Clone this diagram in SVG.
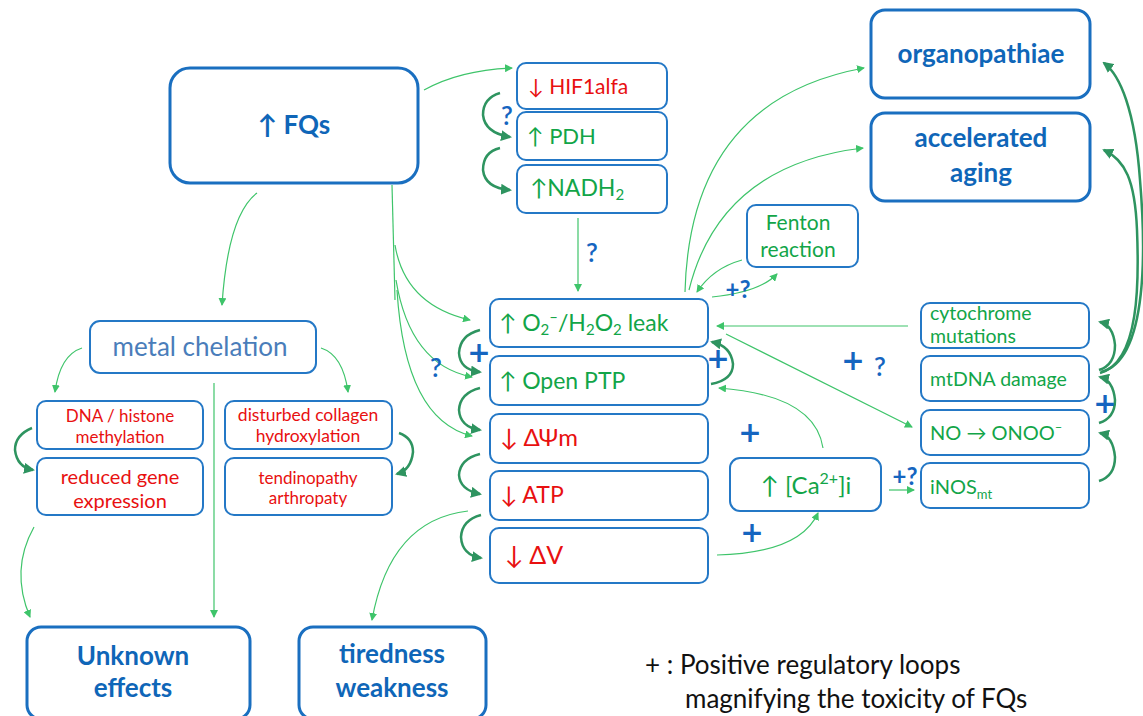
<svg xmlns="http://www.w3.org/2000/svg" width="1143" height="716" viewBox="0 0 1143 716">
<defs>
<style>
.box{fill:#fff;stroke:#2478c6;stroke-width:2}
.bbox{fill:#fff;stroke:#1a6fc0;stroke-width:3}
.t{font-family:Lato,"Open Sans","DejaVu Sans",sans-serif}
.big{font-weight:bold;fill:#0f66b8;font-size:26px;text-anchor:middle}
.red{fill:#e81010}
.grn{fill:#12a548}
.lc{fill:none;stroke:#3ec46a;stroke-width:1.2}
.dc{fill:none;stroke:#2e9460;stroke-width:2.5}
.plus{font-family:"DejaVu Sans",sans-serif;font-weight:bold;fill:#1565c0;font-size:28px;text-anchor:middle}
.q{font-family:Lato,"Open Sans",sans-serif;fill:#1565c0;font-size:26px;text-anchor:middle;font-weight:600}
.pq{font-family:Lato,"Open Sans",sans-serif;fill:#1565c0;font-size:24px;text-anchor:middle;font-weight:bold}
</style>
<marker id="la" markerWidth="8" markerHeight="8" refX="7" refY="4" orient="auto" markerUnits="userSpaceOnUse"><path d="M0,0 L8,4 L0,8 z" fill="#3ec46a"/></marker>
<marker id="da" markerWidth="11" markerHeight="11" refX="9" refY="5.5" orient="auto" markerUnits="userSpaceOnUse"><path d="M0,0 L11,5.5 L0,11 z" fill="#2e9460"/></marker>
</defs>

<g id="connectors">
<path class="lc" d="M424,90 Q460,70 512,68" marker-end="url(#la)"/>
<path class="dc" d="M500,93 Q483,98 483,115 Q485,133 510,137" marker-end="url(#da)"/>
<path class="dc" d="M500,148 Q483,152 483,170 Q485,188 510,190" marker-end="url(#da)"/>
<path class="lc" d="M578,218 L578,291" marker-end="url(#la)"/>
<path class="lc" d="M392,185 L395,300"/>
<path class="lc" d="M395,245 Q405,305 470,320" marker-end="url(#la)"/>
<path class="lc" d="M396,280 Q410,365 472,377" marker-end="url(#la)"/>
<path class="lc" d="M397,290 Q405,420 472,436" marker-end="url(#la)"/>
<path class="lc" d="M257,193 Q228,215 222,305" marker-end="url(#la)"/>
<path class="lc" d="M82,348 Q60,355 55,392" marker-end="url(#la)"/>
<path class="lc" d="M321,348 Q343,355 348,392" marker-end="url(#la)"/>
<path class="lc" d="M214,383 L214,617" marker-end="url(#la)"/>
<path class="dc" d="M32,428 Q15,435 15,450 Q17,467 33,470" marker-end="url(#da)"/>
<path class="dc" d="M399,433 Q413,438 413,452 Q411,470 397,474" marker-end="url(#da)"/>
<path class="lc" d="M34,527 Q10,570 30,617" marker-end="url(#la)"/>
<path class="dc" d="M480,330 Q460,335 459,353 Q460,370 480,372" marker-end="url(#da)"/>
<path class="dc" d="M480,388 Q460,393 459,410 Q460,427 480,430" marker-end="url(#da)"/>
<path class="dc" d="M480,454 Q460,459 459,475 Q460,490 480,494" marker-end="url(#da)"/>
<path class="dc" d="M481,515 Q462,520 461,537 Q462,555 481,558" marker-end="url(#da)"/>
<path class="lc" d="M468,511 Q390,520 372,620" marker-end="url(#la)"/>
<path class="dc" d="M711,384 Q733,380 733,364 Q731,346 712,342" marker-end="url(#da)"/>
<path class="lc" d="M823,448 Q815,395 719,388" marker-end="url(#la)"/>
<path class="lc" d="M717,555 Q800,553 818,513" marker-end="url(#la)"/>
<path class="lc" d="M889,490 L914,490" marker-end="url(#la)"/>
<path class="lc" d="M908,326 L717,326" marker-end="url(#la)" stroke-width="1.5"/>
<path class="lc" d="M726,334 L912,427" marker-end="url(#la)" stroke-width="1.5"/>
<path class="dc" d="M1099,481 Q1115,476 1115,457 Q1113,436 1100,433" marker-end="url(#da)"/>
<path class="dc" d="M1099,423 Q1115,418 1115,400 Q1113,380 1100,377" marker-end="url(#da)"/>
<path class="dc" d="M1099,370 Q1115,365 1115,345 Q1113,325 1100,322" marker-end="url(#da)"/>
<path class="dc" d="M1101,372 C1150,360 1145,240 1140,180 C1135,110 1120,75 1104,63" marker-end="url(#da)" stroke-width="2"/>
<path class="dc" d="M1100,373 C1140,362 1139,280 1137,230 C1135,180 1125,160 1104,150" marker-end="url(#da)" stroke-width="2"/>
<path class="lc" d="M685,292 Q690,100 864,68" marker-end="url(#la)"/>
<path class="lc" d="M689,290 Q720,165 863,148" marker-end="url(#la)"/>
<path class="lc" d="M712,297 Q760,292 777,274" marker-end="url(#la)"/>
<path class="lc" d="M742,260 Q713,268 697,292" marker-end="url(#la)"/>
</g>

<g id="labels">
<text class="q" x="507" y="125">?</text>
<text class="q" x="592" y="262">?</text>
<text class="q" x="436" y="377">?</text>
<text class="plus" x="479" y="362">+</text>
<text class="plus" x="718" y="368">+</text>
<text class="plus" x="750" y="442">+</text>
<text class="plus" x="752" y="542">+</text>
<text class="plus" x="853" y="370">+</text>
<text class="q" x="880" y="376">?</text>
<text class="plus" x="1105" y="413">+</text>
<text class="pq" x="738" y="298">+?</text>
<text class="pq" x="905" y="485">+?</text>
</g>

<g id="fqs"><rect class="bbox" x="170" y="68" width="248" height="115" rx="20"/><text class="t big" x="294" y="134">↑ FQs</text></g>
<g id="hif"><rect class="box" x="517" y="63" width="150" height="46" rx="9"/><text class="t red" x="528" y="94" font-size="21">↓ HIF1alfa</text></g>
<g id="pdh"><rect class="box" x="517" y="112" width="150" height="48" rx="9"/><text class="t grn" x="527" y="144" font-size="22">↑ PDH</text></g>
<g id="nadh"><rect class="box" x="517" y="165" width="150" height="48" rx="9"/><text class="t grn" x="530" y="196" font-size="23">↑NADH<tspan font-size="15" dy="4">2</tspan></text></g>
<g id="organopathiae"><rect class="bbox" x="871" y="10" width="219" height="88" rx="14"/><text class="t big" x="981" y="63" font-size="28">organopathiae</text></g>
<g id="aging"><rect class="bbox" x="871" y="113" width="219" height="88" rx="14"/><text class="t big" x="981" y="147" font-size="28">accelerated</text><text class="t big" x="981" y="182" font-size="28">aging</text></g>
<g id="fenton"><rect class="box" x="747" y="205" width="111" height="62" rx="9"/><text class="t grn" x="798" y="230" font-size="21" text-anchor="middle">Fenton</text><text class="t grn" x="798" y="257" font-size="21" text-anchor="middle">reaction</text></g>
<g id="o2leak"><rect class="box" x="490" y="299" width="218" height="48" rx="9"/><text class="t grn" x="499" y="331" font-size="23">↑ O<tspan font-size="15" dy="4">2</tspan><tspan font-size="15" dy="-13">–</tspan><tspan dy="9">/H</tspan><tspan font-size="15" dy="4">2</tspan><tspan dy="-4">O</tspan><tspan font-size="15" dy="4">2</tspan><tspan dy="-4"> leak</tspan></text></g>
<g id="ptp"><rect class="box" x="490" y="356" width="218" height="49" rx="9"/><text class="t grn" x="499" y="389" font-size="23">↑ Open PTP</text></g>
<g id="dpsi"><rect class="box" x="490" y="414" width="218" height="49" rx="9"/><text class="t red" x="500" y="446" font-size="24">↓ ΔΨm</text></g>
<g id="atp"><rect class="box" x="490" y="471" width="218" height="49" rx="9"/><text class="t red" x="500" y="503" font-size="23">↓ ATP</text></g>
<g id="dv"><rect class="box" x="490" y="528" width="218" height="55" rx="9"/><text class="t red" x="505" y="564" font-size="25">↓ ΔV</text></g>
<g id="ca"><rect class="box" x="730" y="458" width="151" height="53" rx="10"/><text class="t grn" x="806" y="494" font-size="24" text-anchor="middle">↑ [Ca<tspan font-size="16" dy="-10">2+</tspan><tspan dy="10">]i</tspan></text></g>
<g id="cytochrome"><rect class="box" x="921" y="303" width="168" height="45" rx="9"/><text class="t grn" x="930" y="320" font-size="19.5">cytochrome</text><text class="t grn" x="930" y="343" font-size="19.5">mutations</text></g>
<g id="mtdna"><rect class="box" x="921" y="356" width="168" height="45" rx="9"/><text class="t grn" x="930" y="386" font-size="19.5">mtDNA damage</text></g>
<g id="no"><rect class="box" x="921" y="410" width="168" height="45" rx="9"/><text class="t grn" x="930" y="440" font-size="20">NO → ONOO<tspan font-size="13" dy="-8">–</tspan></text></g>
<g id="inos"><rect class="box" x="921" y="463" width="168" height="45" rx="9"/><text class="t grn" x="930" y="494" font-size="20">iNOS<tspan font-size="13" dy="5">mt</tspan></text></g>
<g id="metal"><rect class="box" x="90" y="321" width="226" height="52" rx="10"/><text class="t" x="200" y="356" font-size="26" fill="#4a7dba" text-anchor="middle">metal chelation</text></g>
<g id="dnahist"><rect class="box" x="37" y="401" width="166" height="48" rx="9"/><text class="t red" x="120" y="422" font-size="17" text-anchor="middle">DNA / histone</text><text class="t red" x="120" y="443" font-size="17" text-anchor="middle">methylation</text></g>
<g id="reduced"><rect class="box" x="37" y="458" width="166" height="57" rx="9"/><text class="t red" x="120" y="484" font-size="20" text-anchor="middle">reduced gene</text><text class="t red" x="120" y="508" font-size="20" text-anchor="middle">expression</text></g>
<g id="collagen"><rect class="box" x="225" y="401" width="167" height="48" rx="9"/><text class="t red" x="308" y="421" font-size="17.5" text-anchor="middle">disturbed collagen</text><text class="t red" x="308" y="442" font-size="17.5" text-anchor="middle">hydroxylation</text></g>
<g id="tendino"><rect class="box" x="225" y="458" width="167" height="57" rx="9"/><text class="t red" x="308" y="484" font-size="17" text-anchor="middle">tendinopathy</text><text class="t red" x="308" y="504" font-size="17" text-anchor="middle">arthropaty</text></g>
<g id="unknown"><rect class="bbox" x="27" y="627" width="223" height="92" rx="14"/><text class="t big" x="133" y="665" font-size="24">Unknown</text><text class="t big" x="133" y="697" font-size="24">effects</text></g>
<g id="tiredness"><rect class="bbox" x="299" y="627" width="187" height="92" rx="14"/><text class="t big" x="392" y="663">tiredness</text><text class="t big" x="392" y="697">weakness</text></g>
<g id="legend"><text class="t" x="645" y="674" font-size="26" fill="#111">+ : Positive regulatory loops</text><text class="t" x="685" y="708" font-size="26" fill="#111">magnifying the toxicity of FQs</text></g>
</svg>
